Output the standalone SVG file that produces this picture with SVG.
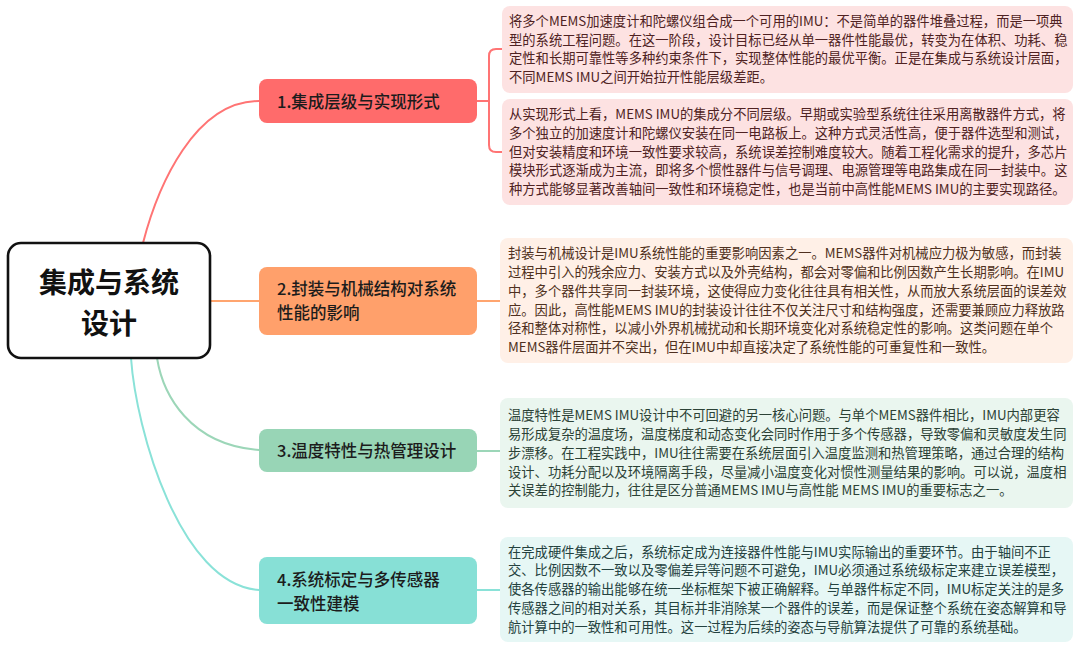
<svg xmlns="http://www.w3.org/2000/svg" width="1080" height="650" viewBox="0 0 1080 650">
<style>
.bg{fill:#ffffff}
.conn{fill:none;stroke-width:2;stroke-linecap:round}
.c1{stroke:#ff7474}.c2{stroke:#ffa56f}.c3{stroke:#9cd6b8}.c4{stroke:#8ae2d8}
.t{font-family:"Noto Sans CJK SC","Noto Sans",sans-serif}
.ctr{font-size:28px;font-weight:700;fill:#111111;text-anchor:middle}
.nt{font-size:16.5px;font-weight:500;fill:#1c1c1c}
.bt{font-size:13.3px}
.r1{fill:#4f2222}.r2{fill:#4f3020}.r3{fill:#2c4236}.r4{fill:#244240}
</style>
<rect class="bg" x="0" y="0" width="1080" height="650"/>
<g id="connectors">
<path class="conn c1" d="M143,243 C158,185 195,101 259,101"/>
<path class="conn c2" d="M210,301 H259"/>
<path class="conn c3" d="M157,358 C163,395 190,445 259,450"/>
<path class="conn c4" d="M131,358 C136,430 180,585 259,590"/>
<path class="conn c1" d="M477,101 H489 M502,49 H496 Q489,49 489,56 V145 Q489,152 496,152 H502"/>
<path class="conn c2" d="M477,301 H500"/>
<path class="conn c3" d="M477,451 H500"/>
<path class="conn c4" d="M477,590 H500"/>
</g>
<g id="center">
<rect x="8" y="243" width="202" height="115" rx="13" fill="#ffffff" stroke="#111111" stroke-width="2.6"/>
<text class="t ctr" x="109" y="293">集成与系统</text>
<text class="t ctr" x="109" y="334">设计</text>
</g>
<g id="node1">
<rect x="259" y="79" width="218" height="44" rx="8" fill="#ff6b6b"/>
<text class="t nt" x="277" y="107.5">1.集成层级与实现形式</text>
</g>
<g id="node2">
<rect x="259" y="267" width="218" height="68" rx="8" fill="#ffa06b"/>
<text class="t nt" x="277" y="295">2.封装与机械结构对系统</text>
<text class="t nt" x="277" y="319">性能的影响</text>
</g>
<g id="node3">
<rect x="259" y="429" width="218" height="43" rx="8" fill="#98d5b6"/>
<text class="t nt" x="277" y="456.5">3.温度特性与热管理设计</text>
</g>
<g id="node4">
<rect x="259" y="557" width="218" height="67" rx="8" fill="#87e0d6"/>
<text class="t nt" x="277" y="586">4.系统标定与多传感器</text>
<text class="t nt" x="277" y="610">一致性建模</text>
</g>
<g id="detail1">
<rect x="502" y="6" width="571" height="87" rx="8" fill="#fde2e2"/>
<text class="t bt r1" x="509" y="25.8">将多个MEMS加速度计和陀螺仪组合成一个可用的IMU：不是简单的器件堆叠过程，而是一项典</text>
<text class="t bt r1" x="509" y="44.6">型的系统工程问题。在这一阶段，设计目标已经从单一器件性能最优，转变为在体积、功耗、稳</text>
<text class="t bt r1" x="509" y="63.4">定性和长期可靠性等多种约束条件下，实现整体性能的最优平衡。正是在集成与系统设计层面，</text>
<text class="t bt r1" x="509" y="82.2">不同MEMS IMU之间开始拉开性能层级差距。</text>
</g>
<g id="detail2">
<rect x="502" y="99" width="571" height="106" rx="8" fill="#fde2e2"/>
<text class="t bt r1" x="509" y="119">从实现形式上看，MEMS IMU的集成分不同层级。早期或实验型系统往往采用离散器件方式，将</text>
<text class="t bt r1" x="509" y="137.8">多个独立的加速度计和陀螺仪安装在同一电路板上。这种方式灵活性高，便于器件选型和测试，</text>
<text class="t bt r1" x="509" y="156.6">但对安装精度和环境一致性要求较高，系统误差控制难度较大。随着工程化需求的提升，多芯片</text>
<text class="t bt r1" x="509" y="175.4">模块形式逐渐成为主流，即将多个惯性器件与信号调理、电源管理等电路集成在同一封装中。这</text>
<text class="t bt r1" x="509" y="194.2">种方式能够显著改善轴间一致性和环境稳定性，也是当前中高性能MEMS IMU的主要实现路径。</text>
</g>
<g id="detail3">
<rect x="500" y="238" width="573" height="125" rx="8" fill="#fff0e7"/>
<text class="t bt r2" x="508" y="258.2">封装与机械设计是IMU系统性能的重要影响因素之一。MEMS器件对机械应力极为敏感，而封装</text>
<text class="t bt r2" x="508" y="277">过程中引入的残余应力、安装方式以及外壳结构，都会对零偏和比例因数产生长期影响。在IMU</text>
<text class="t bt r2" x="508" y="295.8">中，多个器件共享同一封装环境，这使得应力变化往往具有相关性，从而放大系统层面的误差效</text>
<text class="t bt r2" x="508" y="314.6">应。因此，高性能MEMS IMU的封装设计往往不仅关注尺寸和结构强度，还需要兼顾应力释放路</text>
<text class="t bt r2" x="508" y="333.4">径和整体对称性，以减小外界机械扰动和长期环境变化对系统稳定性的影响。这类问题在单个</text>
<text class="t bt r2" x="508" y="352.2">MEMS器件层面并不突出，但在IMU中却直接决定了系统性能的可重复性和一致性。</text>
</g>
<g id="detail4">
<rect x="500" y="398" width="573" height="110" rx="8" fill="#eaf6ef"/>
<text class="t bt r3" x="508" y="420.1">温度特性是MEMS IMU设计中不可回避的另一核心问题。与单个MEMS器件相比，IMU内部更容</text>
<text class="t bt r3" x="508" y="438.9">易形成复杂的温度场，温度梯度和动态变化会同时作用于多个传感器，导致零偏和灵敏度发生同</text>
<text class="t bt r3" x="508" y="457.7">步漂移。在工程实践中，IMU往往需要在系统层面引入温度监测和热管理策略，通过合理的结构</text>
<text class="t bt r3" x="508" y="476.5">设计、功耗分配以及环境隔离手段，尽量减小温度变化对惯性测量结果的影响。可以说，温度相</text>
<text class="t bt r3" x="508" y="495.3">关误差的控制能力，往往是区分普通MEMS IMU与高性能 MEMS IMU的重要标志之一。</text>
</g>
<g id="detail5">
<rect x="500" y="537" width="573" height="105" rx="8" fill="#e6f7f5"/>
<text class="t bt r4" x="508" y="556.6">在完成硬件集成之后，系统标定成为连接器件性能与IMU实际输出的重要环节。由于轴间不正</text>
<text class="t bt r4" x="508" y="575.4">交、比例因数不一致以及零偏差异等问题不可避免，IMU必须通过系统级标定来建立误差模型，</text>
<text class="t bt r4" x="508" y="594.2">使各传感器的输出能够在统一坐标框架下被正确解释。与单器件标定不同，IMU标定关注的是多</text>
<text class="t bt r4" x="508" y="613">传感器之间的相对关系，其目标并非消除某一个器件的误差，而是保证整个系统在姿态解算和导</text>
<text class="t bt r4" x="508" y="631.8">航计算中的一致性和可用性。这一过程为后续的姿态与导航算法提供了可靠的系统基础。</text>
</g>
</svg>
